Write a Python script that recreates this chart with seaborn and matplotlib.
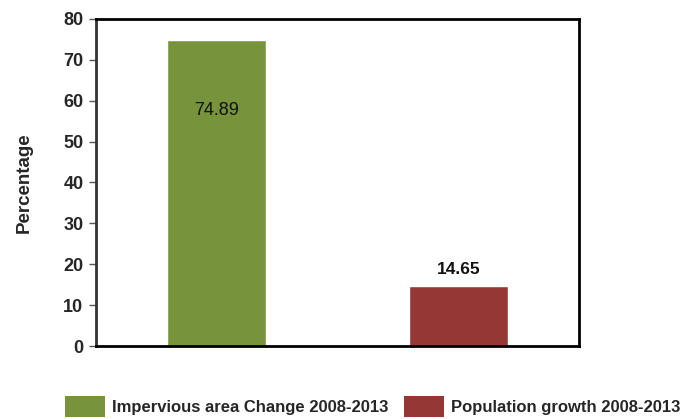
import matplotlib
matplotlib.use("Agg")
import matplotlib.pyplot as plt
import seaborn as sns
import pandas as pd
from matplotlib.patches import Patch

categories = ["Impervious area Change 2008-2013", "Population growth 2008-2013"]
values = [74.89, 14.65]
labels = ["74.89", "14.65"]
colors = ["#77933C", "#953735"]
yticks = [0, 10, 20, 30, 40, 50, 60, 70, 80]

sns.set_theme(style="white")
plt.rcParams['font.family'] = ['Liberation Sans', 'DejaVu Sans']

df = pd.DataFrame({"cat": categories, "val": values})

fig = plt.figure(figsize=(6.99, 4.19), dpi=100)
ax = fig.add_axes([96/699, 1-346/419, (579-96)/699, (346-19)/419])
sns.barplot(data=df, x="cat", y="val", hue="cat", palette=colors, width=0.41,
            ax=ax, legend=False, saturation=1)
ax.set_xlim(-0.5, 1.5)
ax.set_ylim(0, 80)
ax.set_yticks(yticks)
ax.set_yticklabels([str(t) for t in yticks], fontsize=13, fontweight='bold')
ax.set_xticks([])
ax.set_xlabel("")
ax.set_ylabel("Percentage", fontsize=13.5, fontweight='bold', labelpad=22)
ax.tick_params(axis='y', left=True, length=5, width=1, color='#555555', pad=4)
for s in ['top', 'right', 'bottom']:
    ax.spines[s].set_color('black')
    ax.spines[s].set_linewidth(2)
ax.spines['left'].set_color('#333333')
ax.spines['left'].set_linewidth(2)

# value labels
ax.text(0, 57.5, labels[0], ha='center', va='center', fontsize=13, color='#111111')
ax.text(1, values[1] + 2.3, labels[1], ha='center', va='bottom', fontsize=12.5,
        fontweight='bold', color='#111111')

handles = [Patch(facecolor=c, edgecolor='none') for c in colors]
leg = fig.legend(handles, categories, loc='lower left', bbox_to_anchor=(50/699, -0.03),
                 ncol=2, frameon=False, prop={'weight': 'bold', 'size': 12},
                 handlelength=2.4, handleheight=1.5, columnspacing=0.9, handletextpad=0.45)

fig.savefig("out.png", dpi=100)
